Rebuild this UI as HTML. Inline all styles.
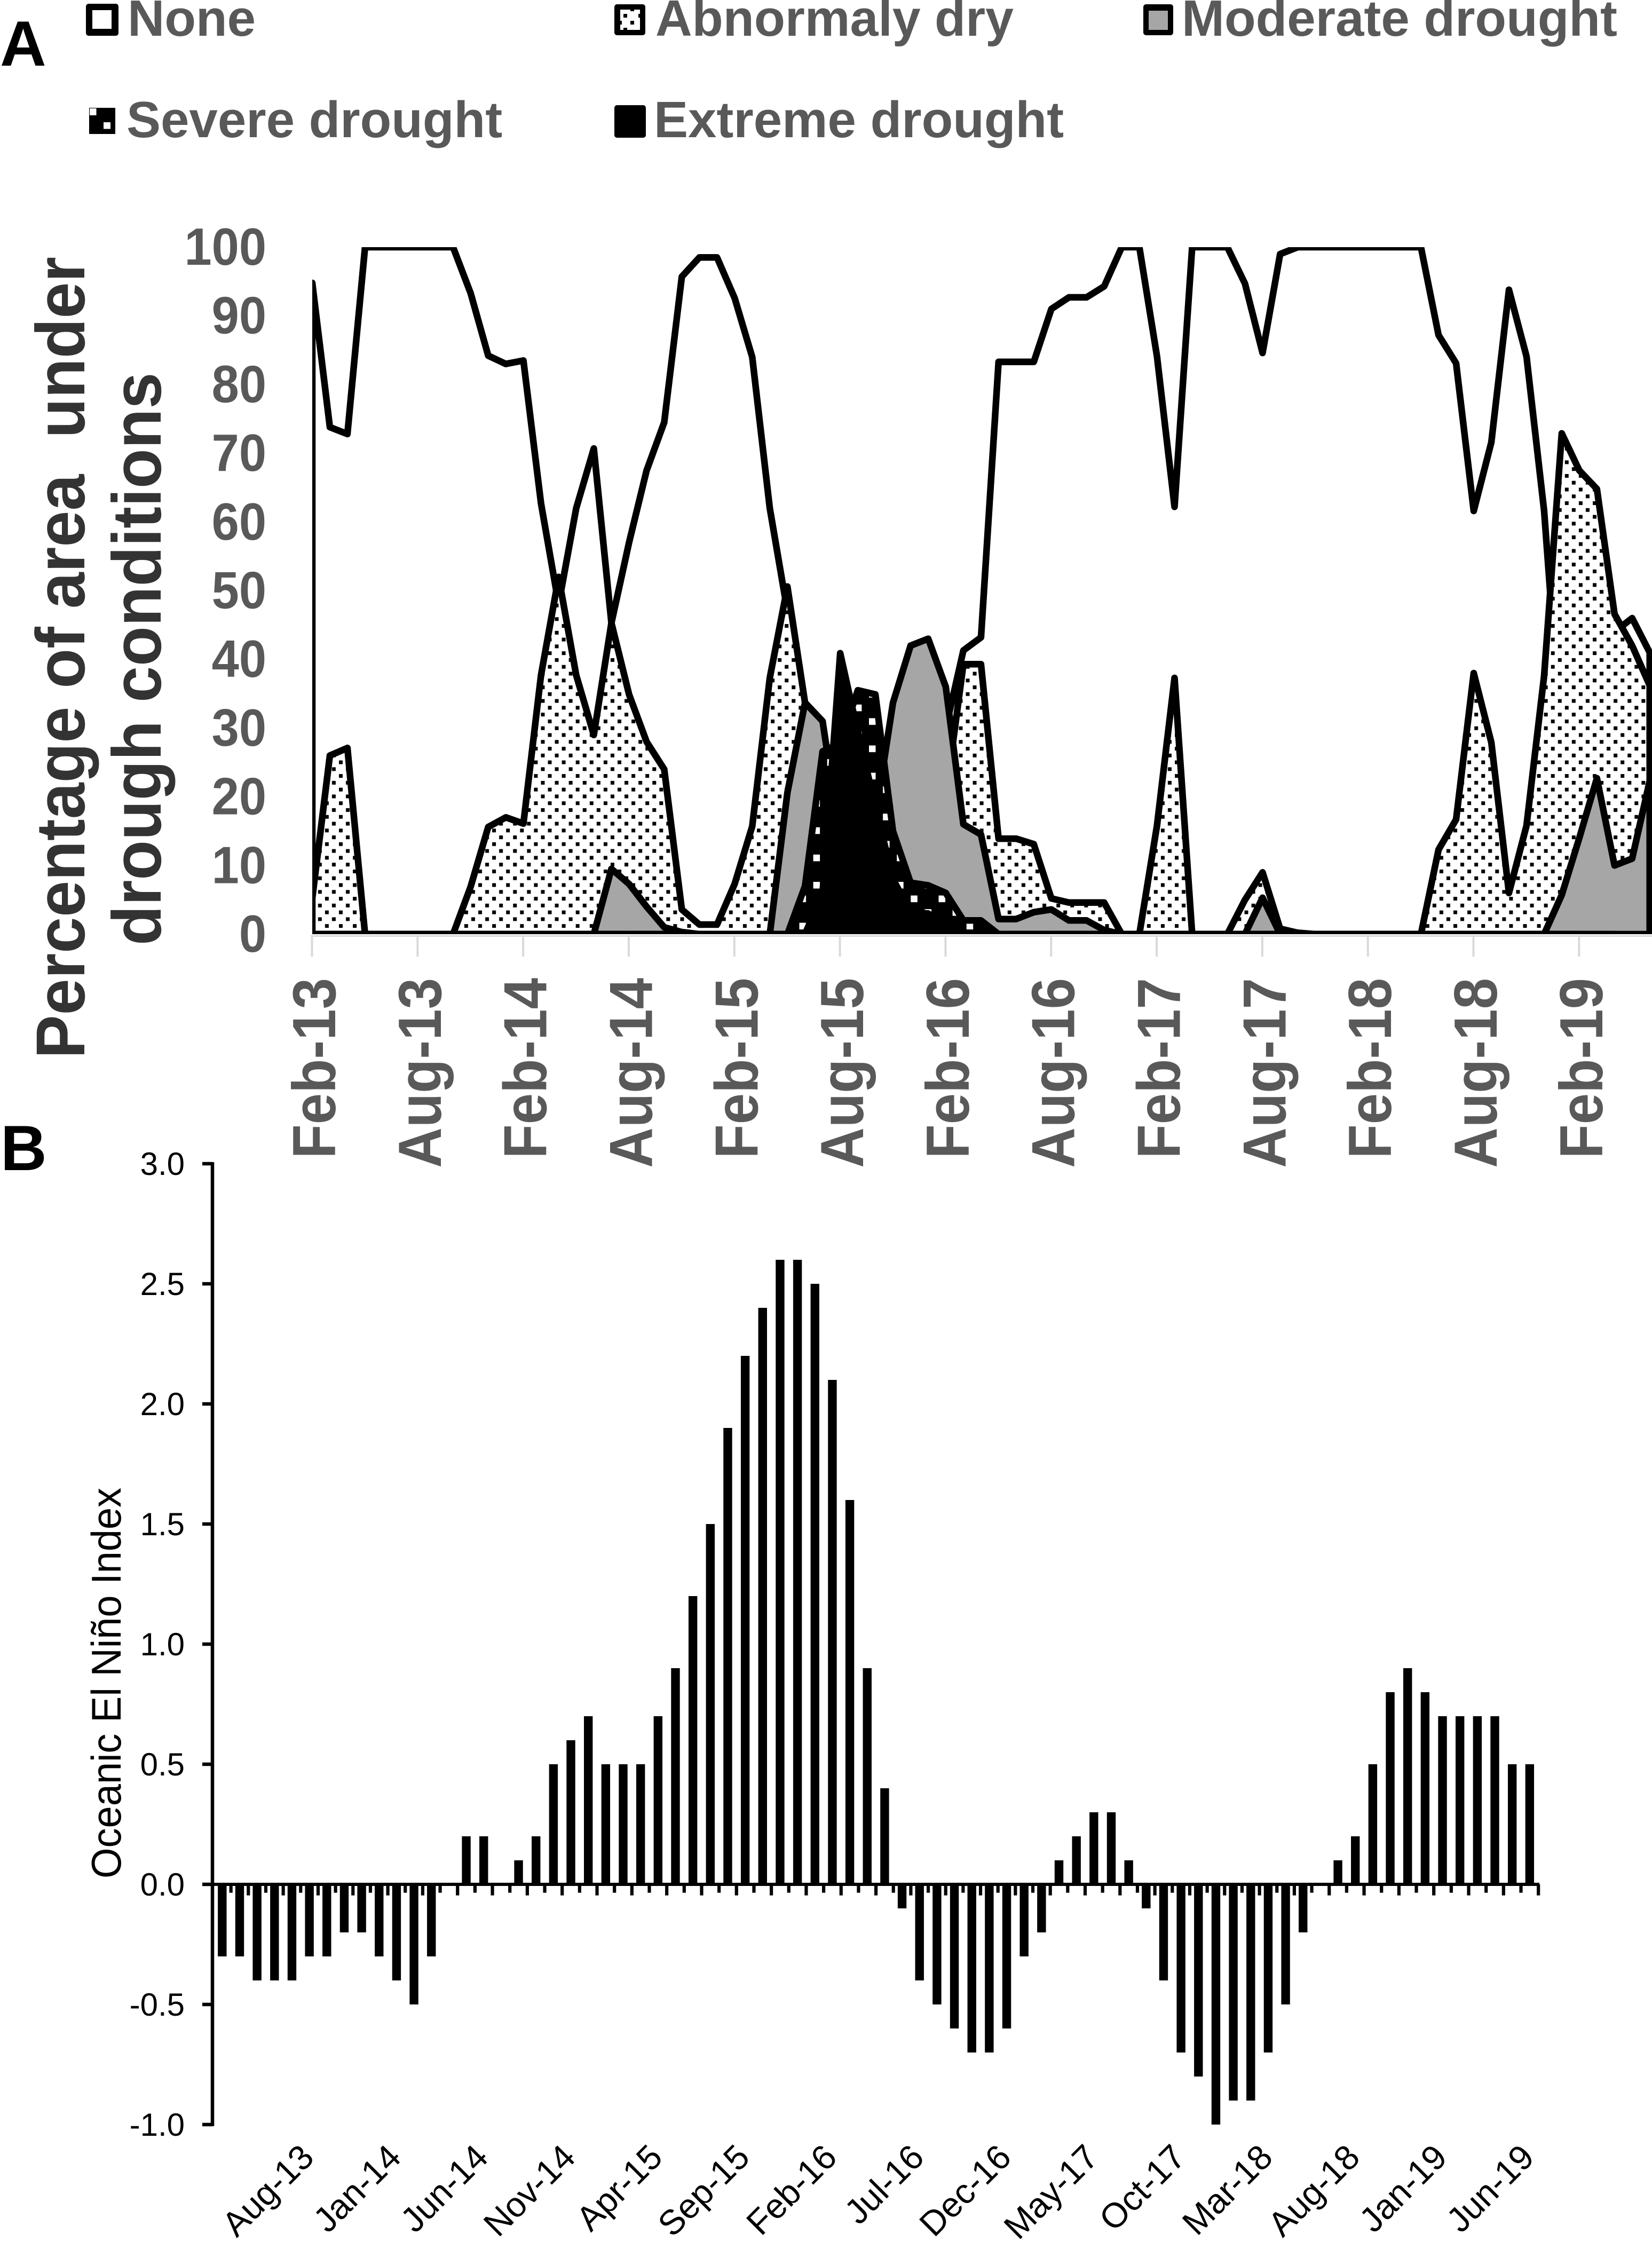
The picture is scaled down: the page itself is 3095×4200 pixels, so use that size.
<!DOCTYPE html>
<html lang="en">
<head>
<meta charset="utf-8">
<title>Drought conditions and Oceanic El Niño Index</title>
<style>
html,body{margin:0;padding:0;background:#fff;}
svg{display:block;}
text{font-family:"Liberation Sans",Arial,sans-serif;white-space:pre;}
.b{font-weight:700;}
</style>
</head>
<body>
<svg id="figure" xmlns="http://www.w3.org/2000/svg" width="3095" height="4200" viewBox="0 0 3095 4200">
  <defs>
    <pattern id="dry-pattern" patternUnits="userSpaceOnUse" x="1026.5" y="1501.2" width="26.1" height="25.55">
      <rect x="0" y="0" width="26.1" height="25.55" fill="#fff"/>
      <rect x="0" y="0" width="7" height="7" fill="#000"/>
      <rect x="13.05" y="12.78" width="7" height="7" fill="#000"/>
    </pattern>
    <pattern id="severe-pattern" patternUnits="userSpaceOnUse" x="1523.6" y="1652" width="52.2" height="51.1">
      <rect x="0" y="0" width="52.2" height="51.1" fill="#000"/>
      <rect x="0" y="0" width="12.5" height="12.5" fill="#fff"/>
      <rect x="26.1" y="25.55" width="12.5" height="12.5" fill="#fff"/>
    </pattern>
    <clipPath id="plot-a-clip"><rect x="585" y="463" width="2510" height="1287"/></clipPath>
  </defs>

  <text class="b" x="0" y="123" font-size="120" fill="#000">A</text>
  <text class="b" x="1" y="2192" font-size="120" fill="#000">B</text>

  <g>
    <g>
      <rect x="161" y="7" width="61" height="60" rx="5" fill="#000"/>
      <rect x="173" y="19" width="36" height="35" fill="#fff"/>
      <text class="b" x="239" y="67" font-size="96" fill="#595959">None</text>
    </g>
    <g>
      <rect x="1151" y="8" width="58" height="58" rx="5" fill="#000"/>
      <rect x="1162" y="18" width="37" height="38" fill="#fff"/>
      <rect x="1168" y="26" width="7" height="7" fill="#000"/>
      <rect x="1181" y="39" width="7" height="7" fill="#000"/>
      <rect x="1181" y="18" width="7" height="3" fill="#000"/>
      <rect x="1162" y="39" width="3" height="7" fill="#000"/>
      <rect x="1196" y="26" width="3" height="7" fill="#000"/>
      <rect x="1168" y="52" width="7" height="4" fill="#000"/>
      <text class="b" x="1228" y="67" font-size="96" fill="#595959" textLength="671" lengthAdjust="spacingAndGlyphs">Abnormaly dry</text>
    </g>
    <g>
      <rect x="2142" y="8" width="56" height="58" rx="5" fill="#000"/>
      <rect x="2152" y="20" width="36" height="36" fill="#a6a6a6"/>
      <text class="b" x="2214" y="67" font-size="96" fill="#595959">Moderate drought</text>
    </g>
    <g>
      <rect x="167" y="202" width="49" height="49" fill="#000"/>
      <rect x="168" y="203" width="12.5" height="13" fill="#fff"/>
      <rect x="194" y="229" width="13" height="12.5" fill="#fff"/>
      <text class="b" x="237" y="257" font-size="96" fill="#595959">Severe drought</text>
    </g>
    <g>
      <rect x="1151" y="197" width="59" height="61" rx="5" fill="#000"/>
      <text class="b" x="1225" y="257" font-size="96" fill="#595959">Extreme drought</text>
    </g>
  </g>

  <text class="b" transform="translate(158,1983) rotate(-90) scale(1,1.06)" font-size="122.3" fill="#333">Percentage of area  under</text>
  <text class="b" transform="translate(301,1771) rotate(-90) scale(1,1.06)" font-size="122.3" fill="#333">drough conditions</text>

  <g id="chart-a"></g>

  <text transform="translate(226,3519) rotate(-90) scale(1,1.05)" font-size="74" fill="#000">Oceanic El Niño Index</text>
  <g id="chart-b"></g>
</svg>

<script>
// ---- Panel A data: percentage of area, monthly from Feb-13 ----
var noneValues = [94.8,73.8,72.8,100,100,100,100,100,100,93.3,84.2,83,83.5,62.7,48,62,70.7,45.3,57,67.5,74.5,95.7,98.5,98.5,92.6,84,62,47,26,13,5,3,2,2,5,18,30,41.3,43.2,83.3,83.3,83.3,91,92.7,92.7,94.3,100,100,84.1,62.2,100,100,100,94.7,84.6,99,100,100,100,100,100,100,100,100,87.2,83.1,61.6,71.6,93.8,84.1,61.6,27,33,35,44,46,41];
var dryValues = [5.2,26,27.1,0,0,0,0,0,0,6.9,15.6,17,16.1,37.7,52,37.7,29,45.3,34.9,28,24,3.6,1.4,1.4,7.3,15.7,37.3,50.6,33.7,28,12,5,3,3,5,10,20,39.3,39.3,13.9,13.9,13.1,5.2,4.6,4.6,4.6,0,0,15.8,37.3,0,0,0,5,9,0.8,0.2,0,0,0,0,0,0,0,12.3,16.7,38,27.9,6,15.8,37.6,72.9,67.5,64.8,46.6,42,36.2];
var moderateValues = [0,0,0,0,0,0,0,0,0,0,0,0,0,0,0,0,0,9.5,7.3,4,1,0.3,0,0,0,0,0,20.6,33.7,31,14,12,17,33.7,42,43,36,16,14.5,2.2,2.2,3.2,3.6,2,2,0.6,0,0,0,0,0,0,0,0,5.3,0,0,0,0,0,0,0,0,0,0,0,0,0,0,0,0,5.7,14,22.7,10,11,22.3];
var severeValues = [0,0,0,0,0,0,0,0,0,0,0,0,0,0,0,0,0,0,0,0,0,0,0,0,0,0,0,0,7,26.6,27.8,35.5,34.9,15,7.5,7.1,6,2,2,0,0,0,0,0,0,0,0,0,0,0,0,0,0,0,0,0,0,0,0,0,0,0,0,0,0,0,0,0,0,0,0,0,0,0,0];
var extremeValues = [0,0,0,0,0,0,0,0,0,0,0,0,0,0,0,0,0,0,0,0,0,0,0,0,0,0,0,0,0,6,40.9,29.4,18.6,8,3.2,3,1,0,0,0,0,0,0,0,0,0,0,0,0,0,0,0,0,0,0,0,0,0,0,0,0,0,0,0,0,0,0,0,0,0,0,0,0];
var chartAYTicks = [0,10,20,30,40,50,60,70,80,90,100];
var chartAXLabels = ["Feb-13","Aug-13","Feb-14","Aug-14","Feb-15","Aug-15","Feb-16","Aug-16","Feb-17","Aug-17","Feb-18","Aug-18","Feb-19"];
var chartAXLabelStep = 6;

// ---- Panel B data: Oceanic El Niño Index, monthly from Mar-13 ----
var ninoValues = [-0.3,-0.3,-0.4,-0.4,-0.4,-0.3,-0.3,-0.2,-0.2,-0.3,-0.4,-0.5,-0.3,0,0.2,0.2,0,0.1,0.2,0.5,0.6,0.7,0.5,0.5,0.5,0.7,0.9,1.2,1.5,1.9,2.2,2.4,2.6,2.6,2.5,2.1,1.6,0.9,0.4,-0.1,-0.4,-0.5,-0.6,-0.7,-0.7,-0.6,-0.3,-0.2,0.1,0.2,0.3,0.3,0.1,-0.1,-0.4,-0.7,-0.8,-1.0,-0.9,-0.9,-0.7,-0.5,-0.2,0,0.1,0.2,0.5,0.8,0.9,0.8,0.7,0.7,0.7,0.7,0.5,0.5];
var chartBYTicks = [-1,-0.5,0,0.5,1,1.5,2,2.5,3];
var chartBXLabels = ["Aug-13","Jan-14","Jun-14","Nov-14","Apr-15","Sep-15","Feb-16","Jul-16","Dec-16","May-17","Oct-17","Mar-18","Aug-18","Jan-19","Jun-19"];
var chartBFirstLabelIndex = 5;
var chartBLabelStep = 5;

var SVGNS = 'http://www.w3.org/2000/svg';

function mk(tag, parent) {
  var el = document.createElementNS(SVGNS, tag);
  parent.appendChild(el);
  return el;
}

// ---- Axis functions ----
function xA(i) { return 585 + i * 32.97; }
function yA(v) { return 1750 - v * 12.87; }
function bandB(i) { return 400 + i * 32.66; }
function xB(i) { return bandB(i) + 16.33; }
function yB(v) { return 3530 - v * 450; }

function areaPoints(values) {
  var pts = [];
  pts.push(xA(0).toFixed(1) + ',' + yA(0).toFixed(1));
  for (var i = 0; i < values.length; i++) {
    pts.push(xA(i).toFixed(1) + ',' + yA(values[i]).toFixed(1));
  }
  pts.push(xA(values.length - 1).toFixed(1) + ',' + yA(0).toFixed(1));
  return pts.join(' ');
}

// ---- Panel A ----
var chartA = document.getElementById('chart-a');

var axisALine = mk('line', chartA);


axisALine.setAttribute('x1', 582);
axisALine.setAttribute('x2', 3095);
axisALine.setAttribute('y1', 1753.5);
axisALine.setAttribute('y2', 1753.5);
axisALine.setAttribute('stroke', '#d9d9d9');
axisALine.setAttribute('stroke-width', 3);

chartAXLabels.forEach(function (label, k) {
  var idx = k * chartAXLabelStep;
  var tick = mk('line', chartA);
  
  
  tick.setAttribute('x1', xA(idx) - 0.5);
  tick.setAttribute('x2', xA(idx) - 0.5);
  tick.setAttribute('y1', 1752);
  tick.setAttribute('y2', 1792);
  tick.setAttribute('stroke', '#d9d9d9');
  tick.setAttribute('stroke-width', 4);

  var t = mk('text', chartA);
  
  
  t.setAttribute('class', 'b');
  t.setAttribute('font-size', '105');
  t.setAttribute('fill', '#595959');
  t.setAttribute('text-anchor', 'end');
  t.setAttribute('transform', 'translate(' + (xA(idx) + 43) + ',1832) rotate(-90) scale(1,1.09)');
  t.textContent = label;
});

chartAYTicks.forEach(function (v) {
  var t = mk('text', chartA);
  
  
  t.setAttribute('class', 'b');
  t.setAttribute('font-size', '92');
  t.setAttribute('fill', '#595959');
  t.setAttribute('text-anchor', 'end');
  t.setAttribute('transform', 'translate(499,' + (yA(v) + 33) + ') scale(1,1.07)');
  t.textContent = String(v);
});

var plotA = mk('g', chartA);


plotA.setAttribute('clip-path', 'url(#plot-a-clip)');
plotA.setAttribute('stroke', '#000');
plotA.setAttribute('stroke-width', '12.5');
plotA.setAttribute('stroke-linejoin', 'round');

var areaNone = mk('polygon', plotA);


areaNone.setAttribute('points', areaPoints(noneValues));
areaNone.setAttribute('fill', '#fff');

var areaDry = mk('polygon', plotA);


areaDry.setAttribute('points', areaPoints(dryValues));
areaDry.setAttribute('fill', 'url(#dry-pattern)');

var areaModerate = mk('polygon', plotA);


areaModerate.setAttribute('points', areaPoints(moderateValues));
areaModerate.setAttribute('fill', '#a6a6a6');

var areaSevere = mk('polygon', plotA);


areaSevere.setAttribute('points', areaPoints(severeValues));
areaSevere.setAttribute('fill', 'url(#severe-pattern)');

var areaExtreme = mk('polygon', plotA);


areaExtreme.setAttribute('points', areaPoints(extremeValues));
areaExtreme.setAttribute('fill', '#000');

// ---- Panel B ----
var chartB = document.getElementById('chart-b');

for (var b = 0; b < ninoValues.length; b++) {
  if (ninoValues[b] === 0) { continue; }
  var bar = mk('rect', chartB);
  
  
  bar.setAttribute('x', xB(b) - 8.2);
  bar.setAttribute('width', 16.4);
  bar.setAttribute('y', Math.min(yB(ninoValues[b]), yB(0)));
  bar.setAttribute('height', Math.abs(yB(ninoValues[b]) - yB(0)));
  bar.setAttribute('fill', '#000');
}

for (var k = 1; k <= ninoValues.length; k++) {
  var xt = mk('line', chartB);
  
  
  xt.setAttribute('x1', bandB(k));
  xt.setAttribute('x2', bandB(k));
  xt.setAttribute('y1', yB(0));
  xt.setAttribute('y2', k % 2 === 0 ? 3550.7 : 3545.7);
  xt.setAttribute('stroke', '#000');
  xt.setAttribute('stroke-width', 6.2);
}

var axisBX = mk('line', chartB);


axisBX.setAttribute('x1', 398);
axisBX.setAttribute('x2', 2884);
axisBX.setAttribute('y1', yB(0));
axisBX.setAttribute('y2', yB(0));
axisBX.setAttribute('stroke', '#000');
axisBX.setAttribute('stroke-width', 6);

var axisBY = mk('line', chartB);


axisBY.setAttribute('x1', 398);
axisBY.setAttribute('x2', 398);
axisBY.setAttribute('y1', yB(3) - 3);
axisBY.setAttribute('y2', yB(-1) + 3);
axisBY.setAttribute('stroke', '#000');
axisBY.setAttribute('stroke-width', 6.5);

chartBYTicks.forEach(function (v) {
  var yt = mk('line', chartB);
  
  
  yt.setAttribute('x1', 379);
  yt.setAttribute('x2', 398);
  yt.setAttribute('y1', yB(v));
  yt.setAttribute('y2', yB(v));
  yt.setAttribute('stroke', '#000');
  yt.setAttribute('stroke-width', 6.5);

  var t = mk('text', chartB);
  
  
  t.setAttribute('font-size', '60');
  t.setAttribute('fill', '#000');
  t.setAttribute('text-anchor', 'end');
  t.setAttribute('x', 346);
  t.setAttribute('y', yB(v) + 21);
  t.textContent = v.toFixed(1);
});

chartBXLabels.forEach(function (label, n) {
  var idx = chartBFirstLabelIndex + n * chartBLabelStep;
  var t = mk('text', chartB);
  
  
  t.setAttribute('font-size', '65');
  t.setAttribute('fill', '#000');
  t.setAttribute('text-anchor', 'end');
  t.setAttribute('transform', 'translate(' + (xB(idx) + 12) + ',4045) rotate(-45)');
  t.textContent = label;
});
</script>
</body>
</html>
